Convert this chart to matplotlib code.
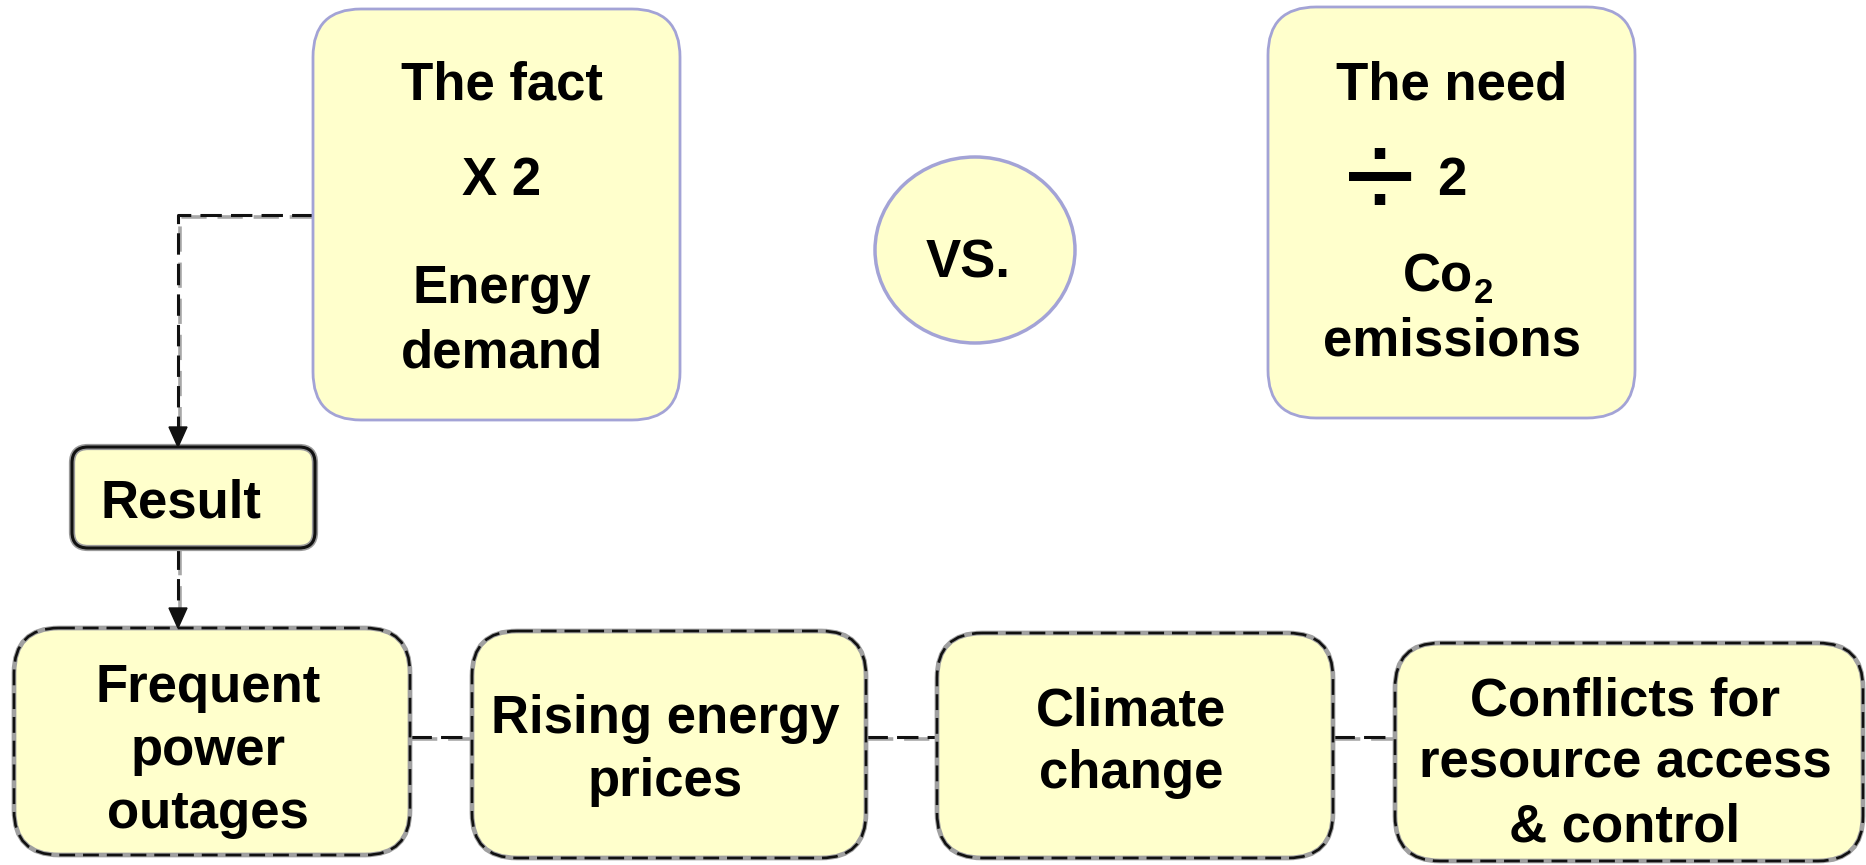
import matplotlib.pyplot as plt
from matplotlib.patches import FancyBboxPatch, Ellipse

plt.rcParams['font.family'] = ['Liberation Sans', 'DejaVu Sans']

# texts of the diagram
fact_lines = ['The fact', 'X 2', 'Energy', 'demand']
fact_baselines = [100, 195, 303, 367]
need_title = 'The need'
need_factor = '2'
need_lines = ['Co', 'emissions']
vs_label = 'VS.'
result_label = 'Result'

effects = [['Frequent', 'power', 'outages'],
           ['Rising energy', 'prices'],
           ['Climate', 'change'],
           ['Conflicts for', 'resource access', '& control']]
# box layout in pixels (left, top, right, bottom) and first baseline
effect_boxes = [(14, 628, 410, 855), (472, 631, 866, 858),
                (937, 633, 1333, 858), (1395, 643, 1863, 861)]
effect_first = [702, 733, 725, 715]
effect_step = 63

fill = '#ffffcc'
soft_edge = '#a3a3d6'

fig = plt.figure(figsize=(18.66, 8.65), dpi=100)
ax = fig.add_axes([0, 0, 1, 1])
ax.set_xlim(0, 1866)
ax.set_ylim(865, 0)
ax.axis('off')

txt = dict(fontsize=38, fontweight='bold', color='black')


def rbox(x0, y0, x1, y1, r, **kw):
    p = FancyBboxPatch((x0, y0), x1 - x0, y1 - y0,
                       boxstyle=f'round,pad=0,rounding_size={r}', **kw)
    ax.add_patch(p)
    return p


def dashed(xs, ys, z=1):
    # grey shadow slightly offset, then the black dashes
    ax.plot([x + 2 for x in xs], [y + 2 for y in ys], color='#a8a8a8', lw=2.6,
            zorder=z, dashes=(7, 3), solid_capstyle='butt')
    ax.plot(xs, ys, color='#111111', lw=2.2, zorder=z + 0.1,
            dashes=(7, 3), solid_capstyle='butt')


def arrow_head(x, y):
    ax.fill([x - 9, x + 9, x], [y - 20, y - 20, y], color='#111111', zorder=5)


# connectors
dashed([313, 178, 178], [215, 215, 430])
arrow_head(178, 447)
dashed([178, 178], [548, 610])
arrow_head(178, 628)
for (a, b) in zip(effect_boxes[:-1], effect_boxes[1:]):
    dashed([a[2], b[0]], [737, 737])

# top boxes
rbox(313, 9, 680, 420, 48, facecolor=fill, edgecolor=soft_edge, lw=2, zorder=2)
for line, yb in zip(fact_lines, fact_baselines):
    ax.text(502, yb, line, ha='center', va='baseline', zorder=3, **txt)

rbox(1268, 7, 1635, 418, 48, facecolor=fill, edgecolor=soft_edge, lw=2, zorder=2)
ax.text(1452, 100, need_title, ha='center', va='baseline', zorder=3, **txt)
ax.text(1380, 186, '\u00f7', ha='center', va='center', fontsize=92,
        color='black', zorder=3)
ax.text(1452, 195, need_factor, ha='center', va='baseline', zorder=3, **txt)
ax.text(1473, 292, need_lines[0], ha='right', va='baseline', zorder=3, **txt)
ax.text(1474, 303, '2', ha='left', va='baseline', fontsize=25,
        fontweight='bold', zorder=3)
ax.text(1452, 355, need_lines[1], ha='center', va='baseline', zorder=3, **txt)

# VS circle
ax.add_patch(Ellipse((975, 250), 200, 186, facecolor=fill,
                     edgecolor=soft_edge, lw=2.5, zorder=2))
ax.text(968, 277, vs_label, ha='center', va='baseline', zorder=3, **txt)

# Result box
rbox(72, 447, 315, 548, 16, facecolor=fill, edgecolor='#9a9a9a', lw=4.5, zorder=2)
rbox(72, 447, 315, 548, 16, facecolor='none', edgecolor='#111111', lw=2.2, zorder=2.1)
ax.text(100, 517, result_label, ha='left', va='baseline', zorder=3, **txt)

# effect boxes
for lines, (x0, y0, x1, y1), yb in zip(effects, effect_boxes, effect_first):
    rbox(x0, y0, x1, y1, 45, facecolor=fill, edgecolor='#a0a0a0', lw=3.4, zorder=2)
    b = rbox(x0, y0, x1, y1, 45, facecolor='none', edgecolor='#111111',
             lw=1.9, zorder=2.1)
    b.set_linestyle((0, (6, 3)))
    cx = (x0 + x1) / 2 - 4
    for i, line in enumerate(lines):
        ax.text(cx, yb + i * effect_step, line, ha='center', va='baseline',
                zorder=3, **txt)

fig.savefig('out.png', dpi=100)
